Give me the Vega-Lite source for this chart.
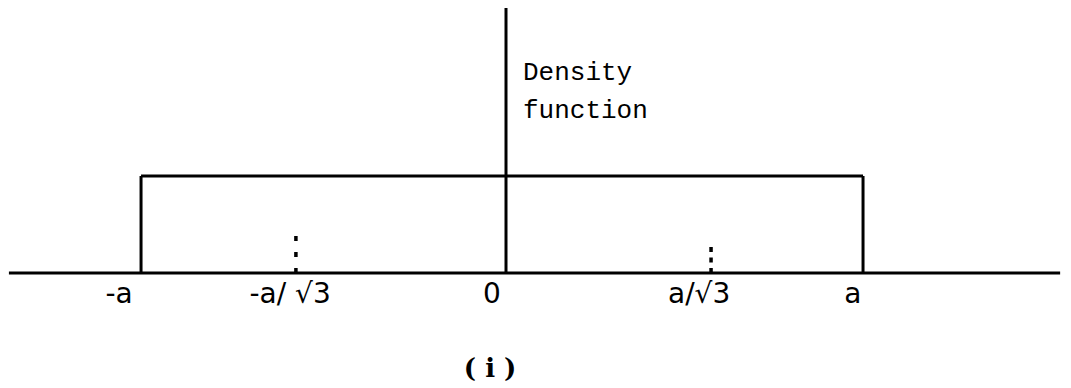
{
  "$schema": "https://vega.github.io/schema/vega-lite/v6.json",
  "width": 1071,
  "height": 388,
  "autosize": {"type": "fit", "contains": "padding"},
  "padding": 0,
  "background": "white",
  "config": {"view": {"stroke": null}},
  "datasets": {
    "solid": [
      {"x": -1.377, "x2": 1.535, "y": 0, "y2": 0},
      {"x": 0, "x2": 0, "y": 0, "y2": 2.732},
      {"x": -1.011, "x2": -1.011, "y": 0, "y2": 1},
      {"x": 0.989, "x2": 0.989, "y": 0, "y2": 1},
      {"x": -1.011, "x2": 0.989, "y": 1, "y2": 1}
    ],
    "dottedLeft": [
      {"x": -0.582, "x2": -0.582, "y": 0, "y2": 0.392}
    ],
    "dottedRight": [
      {"x": 0.568, "x2": 0.568, "y": 0, "y2": 0.268}
    ],
    "ticklabels": [
      {"x": -1.072, "y": -0.309, "label": "-a"},
      {"x": -0.598, "y": -0.309, "label": "-a/ √3"},
      {"x": -0.039, "y": -0.309, "label": "0"},
      {"x": 0.535, "y": -0.309, "label": "a/√3"},
      {"x": 0.961, "y": -0.309, "label": "a"}
    ],
    "notes": [
      {"x": 0.047, "y": 1.99, "label": "Density"},
      {"x": 0.047, "y": 1.598, "label": "function"}
    ],
    "caption": [
      {"x": -0.044, "y": -0.99, "label": "( i )"}
    ]
  },
  "encoding": {},
  "layer": [
    {
      "data": {"name": "solid"},
      "mark": {"type": "rule", "strokeWidth": 3, "color": "black"},
      "encoding": {
        "x": {"field": "x", "type": "quantitative", "scale": {"domain": [-1.4017, 1.5651]}, "axis": null},
        "x2": {"field": "x2"},
        "y": {"field": "y", "type": "quantitative", "scale": {"domain": [-1.1856, 2.8144]}, "axis": null},
        "y2": {"field": "y2"}
      }
    },
    {
      "data": {"name": "dottedLeft"},
      "mark": {"type": "rule", "strokeWidth": 3.5, "color": "black", "strokeDash": [5, 11]},
      "encoding": {
        "x": {"field": "x", "type": "quantitative", "scale": {"domain": [-1.4017, 1.5651]}, "axis": null},
        "x2": {"field": "x2"},
        "y": {"field": "y", "type": "quantitative", "scale": {"domain": [-1.1856, 2.8144]}, "axis": null},
        "y2": {"field": "y2"}
      }
    },
    {
      "data": {"name": "dottedRight"},
      "mark": {"type": "rule", "strokeWidth": 3.5, "color": "black", "strokeDash": [5, 5.5]},
      "encoding": {
        "x": {"field": "x", "type": "quantitative", "scale": {"domain": [-1.4017, 1.5651]}, "axis": null},
        "x2": {"field": "x2"},
        "y": {"field": "y", "type": "quantitative", "scale": {"domain": [-1.1856, 2.8144]}, "axis": null},
        "y2": {"field": "y2"}
      }
    },
    {
      "data": {"name": "ticklabels"},
      "mark": {"type": "text", "font": "DejaVu Sans", "fontSize": 28, "color": "black", "align": "center", "baseline": "alphabetic"},
      "encoding": {
        "x": {"field": "x", "type": "quantitative", "scale": {"domain": [-1.4017, 1.5651]}, "axis": null},
        "y": {"field": "y", "type": "quantitative", "scale": {"domain": [-1.1856, 2.8144]}, "axis": null},
        "text": {"field": "label"}
      }
    },
    {
      "data": {"name": "notes"},
      "mark": {"type": "text", "font": "Liberation Mono", "fontSize": 26, "color": "black", "align": "left", "baseline": "alphabetic"},
      "encoding": {
        "x": {"field": "x", "type": "quantitative", "scale": {"domain": [-1.4017, 1.5651]}, "axis": null},
        "y": {"field": "y", "type": "quantitative", "scale": {"domain": [-1.1856, 2.8144]}, "axis": null},
        "text": {"field": "label"}
      }
    },
    {
      "data": {"name": "caption"},
      "mark": {"type": "text", "font": "DejaVu Serif", "fontSize": 26, "fontWeight": "bold", "color": "black", "align": "center", "baseline": "middle"},
      "encoding": {
        "x": {"field": "x", "type": "quantitative", "scale": {"domain": [-1.4017, 1.5651]}, "axis": null},
        "y": {"field": "y", "type": "quantitative", "scale": {"domain": [-1.1856, 2.8144]}, "axis": null},
        "text": {"field": "label"}
      }
    }
  ]
}
